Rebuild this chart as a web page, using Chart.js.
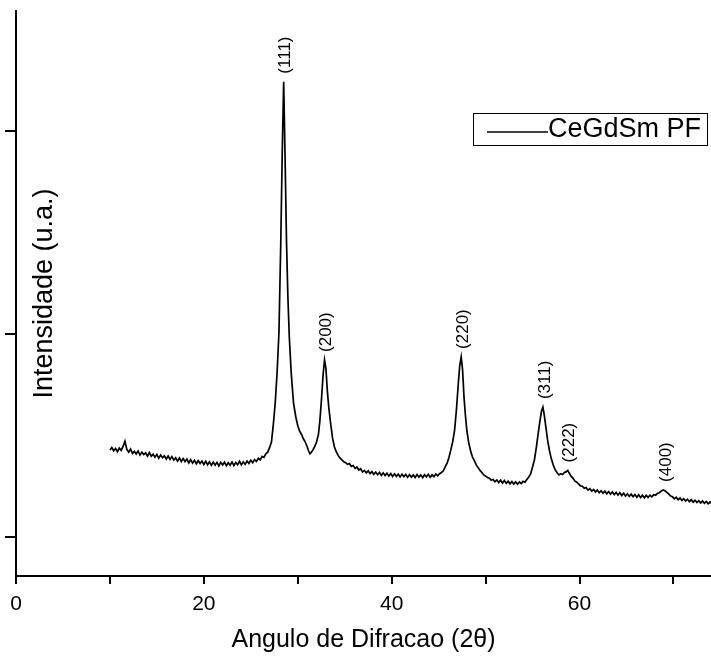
<!DOCTYPE html>
<html>
<head>
<meta charset="utf-8">
<script src="https://cdn.jsdelivr.net/npm/chart.js@4/dist/chart.umd.min.js"></script>
<style>
  html, body { margin: 0; padding: 0; background: #fff; }
  #wrap { width: 711px; height: 661px; }
</style>
</head>
<body>
<div id="wrap"><canvas id="xrdChart" width="711" height="661"></canvas></div>
<script>
// 2-theta (deg) and intensity (a.u.)
var scan = [
  [10.0,1428],[10.2,1441],[10.4,1425],[10.6,1436],[10.8,1420],[11.0,1438],[11.2,1427],[11.4,1446],[11.6,1472],[11.8,1432],
  [12.0,1418],[12.2,1433],[12.4,1412],[12.6,1422],[12.8,1409],[13.0,1424],[13.2,1404],[13.4,1418],[13.6,1406],[13.8,1415],
  [14.0,1398],[14.2,1416],[14.4,1398],[14.6,1408],[14.8,1393],[15.0,1407],[15.2,1388],[15.4,1404],[15.6,1391],[15.8,1400],
  [16.0,1384],[16.2,1399],[16.4,1382],[16.6,1396],[16.8,1379],[17.0,1390],[17.2,1374],[17.4,1389],[17.6,1372],[17.8,1386],
  [18.0,1371],[18.2,1384],[18.4,1365],[18.6,1381],[18.8,1364],[19.0,1378],[19.2,1361],[19.4,1376],[19.6,1362],[19.8,1374],
  [20.0,1357],[20.2,1373],[20.4,1356],[20.6,1370],[20.8,1353],[21.0,1369],[21.2,1354],[21.4,1368],[21.6,1350],[21.8,1368],
  [22.0,1355],[22.2,1369],[22.4,1351],[22.6,1366],[22.8,1354],[23.0,1370],[23.2,1352],[23.4,1367],[23.6,1356],[23.8,1373],
  [24.0,1356],[24.2,1370],[24.4,1358],[24.6,1374],[24.8,1362],[25.0,1378],[25.2,1366],[25.4,1381],[25.6,1372],[25.8,1388],
  [26.0,1380],[26.2,1397],[26.4,1392],[26.6,1410],[26.8,1418],[27.0,1440],
  [27.2,1468],[27.4,1555],[27.6,1660],[27.8,1810],[28.0,2010],[28.2,2470],[28.35,2900],[28.5,3243],[28.65,2870],[28.8,2460],
  [28.95,2180],[29.1,1985],[29.3,1810],[29.55,1660],[29.8,1590],[30.0,1548],[30.2,1522],[30.4,1505],[30.6,1484],[30.8,1468],
  [31.0,1445],[31.15,1425],[31.3,1410],[31.45,1418],[31.6,1428],[31.8,1445],[32.0,1468],[32.2,1505],[32.35,1570],[32.5,1660],
  [32.7,1800],[32.85,1872],[33.0,1830],[33.15,1720],[33.3,1640],[33.5,1560],[33.7,1488],[33.9,1445],[34.1,1420],[34.3,1402],
  [34.5,1388],[34.7,1380],[34.9,1370],[35.1,1366],[35.3,1358],[35.5,1362],[35.7,1348],[35.9,1352],[36.1,1338],[36.3,1345],
  [36.5,1330],[36.7,1336],[36.9,1320],[37.1,1328],[37.3,1316],[37.5,1326],[37.7,1312],[37.9,1322],[38.1,1309],[38.3,1320],
  [38.5,1307],[38.7,1318],[38.9,1304],[39.1,1316],[39.3,1303],[39.5,1314],[39.7,1300],[39.9,1313],[40.1,1298],[40.3,1311],
  [40.5,1299],[40.7,1310],[40.9,1296],[41.1,1309],[41.3,1297],[41.5,1308],[41.7,1294],[41.9,1307],[42.1,1295],[42.3,1306],
  [42.5,1293],[42.7,1308],[42.9,1295],[43.1,1306],[43.3,1292],[43.5,1307],[43.7,1296],[43.9,1309],[44.1,1294],[44.3,1306],
  [44.5,1297],[44.7,1310],[44.9,1302],[45.1,1312],[45.3,1318],[45.5,1326],[45.7,1345],[45.9,1364],[46.1,1392],[46.3,1429],
  [46.5,1470],[46.7,1527],[46.9,1630],[47.1,1760],[47.25,1845],[47.4,1887],[47.55,1823],[47.7,1690],[47.85,1600],[48.0,1527],
  [48.2,1465],[48.4,1425],[48.6,1394],[48.8,1376],[49.0,1355],[49.2,1342],[49.4,1328],[49.6,1318],[49.8,1306],[50.0,1300],
  [50.2,1293],[50.4,1290],[50.6,1280],[50.8,1283],[51.0,1272],[51.2,1281],[51.4,1268],[51.6,1280],[51.8,1266],[52.0,1278],
  [52.2,1264],[52.4,1275],[52.6,1262],[52.8,1273],[53.0,1261],[53.2,1272],[53.4,1260],[53.6,1271],[53.8,1263],[54.0,1274],
  [54.2,1270],[54.4,1284],[54.6,1295],[54.8,1312],[55.0,1345],[55.2,1380],[55.4,1440],[55.6,1510],[55.8,1576],[55.95,1620],
  [56.1,1640],[56.25,1600],[56.4,1548],[56.6,1478],[56.8,1425],[57.0,1385],[57.2,1355],[57.4,1332],[57.6,1318],[57.8,1306],
  [58.0,1312],[58.2,1308],[58.4,1318],[58.6,1322],[58.75,1328],[58.9,1315],[59.1,1300],[59.3,1290],[59.5,1276],[59.7,1270],
  [59.9,1262],[60.1,1252],[60.3,1250],[60.5,1240],[60.7,1244],[60.9,1231],[61.1,1238],[61.3,1226],[61.5,1234],[61.7,1222],
  [61.9,1231],[62.1,1218],[62.3,1228],[62.5,1216],[62.7,1226],[62.9,1213],[63.1,1224],[63.3,1211],[63.5,1222],[63.7,1209],
  [63.9,1220],[64.1,1207],[64.3,1218],[64.5,1204],[64.7,1216],[64.9,1202],[65.1,1213],[65.3,1200],[65.5,1211],[65.7,1199],
  [65.9,1209],[66.1,1196],[66.3,1208],[66.5,1194],[66.7,1206],[66.9,1193],[67.1,1205],[67.3,1195],[67.5,1206],[67.7,1198],
  [67.9,1208],[68.1,1206],[68.3,1215],[68.5,1218],[68.7,1226],[68.9,1232],[69.1,1228],[69.3,1220],[69.5,1212],[69.7,1202],
  [69.9,1198],[70.1,1188],[70.3,1196],[70.5,1184],[70.7,1192],[70.9,1180],[71.1,1189],[71.3,1177],[71.5,1186],[71.7,1174],
  [71.9,1184],[72.1,1172],[72.3,1181],[72.5,1170],[72.7,1179],[72.9,1168],[73.1,1177],[73.3,1166],[73.5,1175],[73.7,1164],
  [73.9,1172],[74.0,1166]
];

// reflections (hkl) and where they sit in 2-theta
var peakNames = ['(111)', '(200)', '(220)', '(311)', '(222)', '(400)'];
var peakAngles = [28.5, 32.85, 47.4, 56.1, 58.75, 69.0];

var xTicks = [0, 10, 20, 30, 40, 50, 60, 70];
var yTicks = [1000, 2000, 3000];

var seriesName = 'CeGdSm PF';
var FONT = "'Liberation Sans', Arial, sans-serif";

Chart.defaults.font.family = FONT;
Chart.defaults.color = '#000';

// hkl labels, y title and the boxed legend drawn on top
var overlay = {
    id: 'overlay',
    afterDraw: function (chart) {
        var ctx = chart.ctx;
        var area = chart.chartArea;
        var xs = chart.scales.x, ys = chart.scales.y;

        ctx.save();
        ctx.fillStyle = '#000';

        // peak labels, rotated, sitting just above each maximum
        ctx.font = '17px ' + FONT;
        ctx.textAlign = 'left';
        ctx.textBaseline = 'middle';
        peakNames.forEach(function (name, i) {
            var top = 0;
            scan.forEach(function (p) {
                if (Math.abs(p[0] - peakAngles[i]) <= 0.3 && p[1] > top) top = p[1];
            });
            var px = xs.getPixelForValue(peakAngles[i]) + 2;
            var py = ys.getPixelForValue(top) - 8;
            ctx.save();
            ctx.translate(px, py);
            ctx.rotate(-Math.PI / 2);
            ctx.fillText(name, 0, 0);
            ctx.restore();
        });

        // y axis title, inside the plot
        ctx.save();
        ctx.font = '27px ' + FONT;
        ctx.textAlign = 'center';
        ctx.textBaseline = 'middle';
        ctx.translate(area.left + 29, (area.top + area.bottom) / 2);
        ctx.rotate(-Math.PI / 2);
        ctx.fillText('Intensidade (u.a.)', 0, 0);
        ctx.restore();

        // legend box
        var bx = area.right - 238, by = 113;
        ctx.strokeStyle = '#000';
        ctx.lineWidth = 1;
        ctx.strokeRect(bx + 0.5, by + 0.5, 234, 32);
        ctx.beginPath();
        ctx.lineWidth = 1.3;
        ctx.moveTo(bx + 14, by + 19);
        ctx.lineTo(bx + 75, by + 19);
        ctx.stroke();
        ctx.font = '27px ' + FONT;
        ctx.textAlign = 'left';
        ctx.textBaseline = 'middle';
        ctx.fillText(seriesName, bx + 75, by + 17);

        ctx.restore();
    }
};

var ctx = document.getElementById('xrdChart').getContext('2d');
var xrdChart = new Chart(ctx, {
    type: 'line',
    data: {
        datasets: [{
            label: seriesName,
            data: scan.map(function (p) { return { x: p[0], y: p[1] }; }),
            borderColor: '#000',
            borderWidth: 1.7,
            pointRadius: 0,
            fill: false,
            tension: 0
        }]
    },
    options: {
        responsive: false,
        animation: false,
        devicePixelRatio: 1,
        layout: { padding: { top: 11, right: 0, bottom: 0, left: 0 } },
        plugins: {
            legend: { display: false },
            tooltip: { enabled: false }
        },
        scales: {
            x: {
                type: 'linear',
                position: 'bottom',
                min: 0,
                max: 74,
                afterBuildTicks: function (scale) {
                    scale.ticks = xTicks.map(function (v) { return { value: v }; });
                },
                afterFit: function (scale) { scale.height = 85; },
                ticks: {
                    autoSkip: false,
                    maxRotation: 0,
                    padding: 8,
                    font: { size: 21 },
                    callback: function (v) { return v % 20 === 0 ? v : ''; }
                },
                grid: {
                    drawOnChartArea: false,
                    drawTicks: true,
                    tickLength: 8,
                    color: '#000',
                    lineWidth: 2
                },
                border: { display: true, color: '#000', width: 2 },
                title: {
                    display: true,
                    text: 'Angulo de Difracao (2\u03B8)',
                    font: { size: 25 },
                    padding: { top: 4, bottom: 6 }
                }
            },
            y: {
                min: 808,
                max: 3591,
                afterBuildTicks: function (scale) {
                    scale.ticks = yTicks.map(function (v) { return { value: v }; });
                },
                afterFit: function (scale) { scale.width = 16; },
                ticks: { display: false },
                grid: {
                    drawOnChartArea: false,
                    drawTicks: true,
                    tickLength: 11,
                    color: '#000',
                    lineWidth: 2
                },
                border: { display: true, color: '#000', width: 2 }
            }
        }
    },
    plugins: [overlay]
});
</script>
</body>
</html>
